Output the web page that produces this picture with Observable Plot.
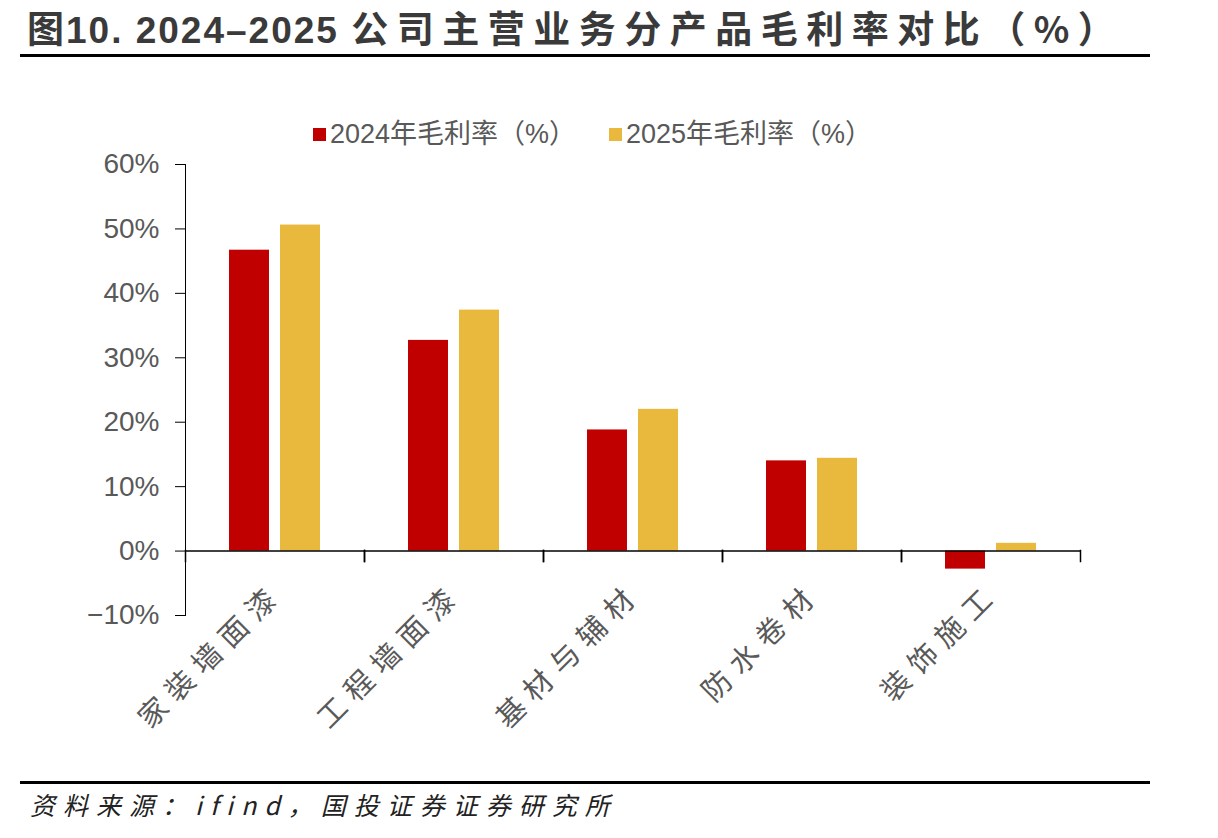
<!DOCTYPE html>
<html>
<head>
<meta charset="utf-8">
<script src="https://cdn.jsdelivr.net/npm/d3@7"></script>
<script src="https://cdn.jsdelivr.net/npm/@observablehq/plot@0.6"></script>
<style>
  html, body { margin: 0; padding: 0; background: #fff; }
  #wrap { position: relative; width: 1218px; height: 838px; background: #fff; overflow: hidden; }
  #title { position: absolute; left: 27px; top: 3px; font-family: "Liberation Sans Narrow", "Liberation Sans", "Noto Sans CJK SC", sans-serif; font-weight: bold; font-size: 37px; color: #3a3a3a; white-space: nowrap; line-height: 48px; }
  #title .lat { letter-spacing: 2px; }
  #title .cjk { letter-spacing: 8.5px; font-family: "Noto Sans CJK SC", sans-serif; }
  #title .cjk0 { letter-spacing: 2px; font-family: "Noto Sans CJK SC", sans-serif; }
  #titleLine { position: absolute; left: 20px; top: 54px; width: 1130px; height: 3px; background: #000; }
  #legend { position: absolute; left: 0; top: 116px; width: 1218px; height: 36px; font-family: "Liberation Sans", "Noto Sans CJK SC", sans-serif; font-size: 27px; color: #595959; }
  .lg { position: absolute; top: 0; display: flex; align-items: center; white-space: nowrap; line-height: 36px; }
  .sw { width: 13px; height: 13px; margin-right: 4px; }
  #chart { position: absolute; left: 0; top: 100px; }
  #bottomLine { position: absolute; left: 20px; top: 781px; width: 1130px; height: 3px; background: #000; }
  #source { position: absolute; left: 30px; top: 786px; font-family: "Noto Sans CJK SC", sans-serif; font-style: italic; font-size: 25px; color: #222; white-space: nowrap; letter-spacing: 8px; }
  #chart svg [aria-label="y-axis tick label"] text, #chart svg g[aria-label="y-axis tick label"] { fill: #595959; }
</style>
</head>
<body>
<div id="wrap">
  <div id="title"><span class="cjk0">图</span><span class="lat">10. 2024–2025 </span><span class="cjk">公司主营业务分产品毛利率对比（%）</span></div>
  <div id="titleLine"></div>
  <div id="legend"></div>
  <div id="chart"></div>
  <div id="bottomLine"></div>
  <div id="source">资料来源：ifind，国投证券证券研究所</div>
</div>
<script>
// ---- data ----
const categories = ["家装墙面漆", "工程墙面漆", "基材与辅材", "防水卷材", "装饰施工"];
const years = ["2024", "2025"];
const seriesLabels = ["2024年毛利率（%）", "2025年毛利率（%）"];
const values2024 = [46.7, 32.7, 18.8, 14.0, -2.8];
const values2025 = [50.6, 37.4, 22.0, 14.4, 1.2];
const yTicks = [-10, 0, 10, 20, 30, 40, 50, 60];
const colors = ["#C00000", "#E8B93C"];

const rows = [];
categories.forEach((c, i) => {
  rows.push({category: c, year: years[0], value: values2024[i]});
  rows.push({category: c, year: years[1], value: values2025[i]});
});

// ---- legend ----
const legend = document.getElementById("legend");
const legendX = [313, 609];
seriesLabels.forEach((s, i) => {
  const d = document.createElement("div");
  d.className = "lg";
  d.style.left = legendX[i] + "px";
  const sw = document.createElement("div");
  sw.className = "sw";
  sw.style.background = colors[i];
  const t = document.createElement("span");
  t.textContent = s;
  d.appendChild(sw); d.appendChild(t);
  legend.appendChild(d);
});

// ---- chart ----
const chart = Plot.plot({
  width: 1218,
  height: 640,
  marginTop: 64,
  marginBottom: 125,
  marginLeft: 185,
  marginRight: 138,
  style: {fontFamily: "Liberation Sans, Arial, sans-serif", fontSize: "28px", color: "#000", background: "transparent"},
  fx: {domain: categories, padding: 0, axis: null},
  x: {domain: years, axis: null, paddingInner: 0.216, paddingOuter: 0.863, round: false},
  y: {domain: [-10, 60], ticks: yTicks, tickSize: 10, tickPadding: 16, line: true, label: null,
      tickFormat: d => (d < 0 ? "−" + Math.abs(d) : d) + "%"},
  color: {domain: years, range: colors},
  marks: [
    Plot.barY(rows, {fx: "category", x: "year", y: "value", fill: "year"}),
    Plot.ruleY([0], {stroke: "#000", strokeWidth: 1.5}),
    Plot.frame({anchor: "left", insetTop: 386, insetBottom: 54, stroke: "#000", strokeWidth: 1.5}),
    Plot.frame({anchor: "right", insetTop: 386, insetBottom: 54, stroke: "#000", strokeWidth: 1.5}),
    Plot.text(categories, {fx: d => d, text: d => d, y: d => 0, rotate: -45, textAnchor: "end",
      dx: 3, dy: 38, fontSize: 29, fill: "#595959",
      fontFamily: "Noto Sans CJK SC, sans-serif"})
  ]
});
chart.querySelectorAll("text").forEach(t => {
  if (categories.includes(t.textContent)) t.style.letterSpacing = "9px";
});
document.getElementById("chart").appendChild(chart);
</script>
</body>
</html>
